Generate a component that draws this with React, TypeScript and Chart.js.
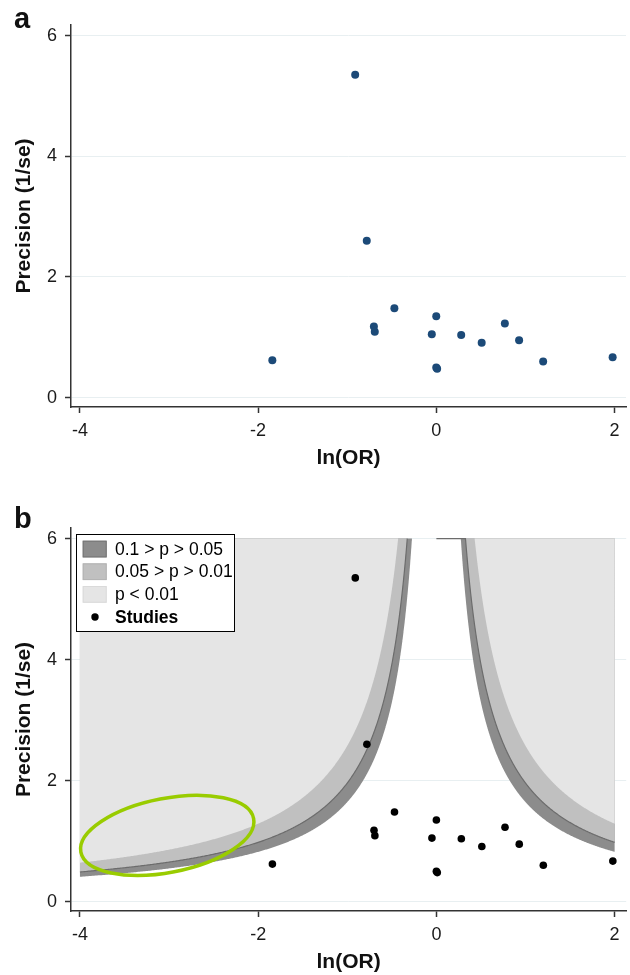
import React, { useEffect, useRef } from 'react';
import { Chart, registerables } from 'chart.js';

Chart.register(...registerables);

// ---- data ----
const LN_OR = [-0.91, -0.78, -1.84, -0.47, 0.0, -0.7, -0.69, -0.05, 0.28, 0.51, 0.77, 0.93, 1.2, 1.98, 0.0, 0.01];
const PRECISION = [5.35, 2.6, 0.62, 1.48, 1.35, 1.18, 1.09, 1.05, 1.04, 0.91, 1.23, 0.95, 0.6, 0.67, 0.5, 0.48];
const X_TICKS = [-4, -2, 0, 2];
const Y_TICKS = [0, 2, 4, 6];
const X_TITLE = 'ln(OR)';
const Y_TITLE = 'Precision (1/se)';
// contour z values for p = 0.10, 0.05, 0.01
const CONTOUR_Z = [1.645, 1.96, 2.576];
const CONTOUR_FILLS = ['#8c8c8c', '#c0c0c0', '#e5e5e5'];
const CONTOUR_EDGES = ['#747474', '#b3b3b3', '#dadada'];
const LEGEND_LABELS = ['0.1 > p > 0.05', '0.05 > p > 0.01', 'p < 0.01', 'Studies'];
const FUNNEL_X_RANGE = [-4, 2];
const FUNNEL_TOP = 6;
const ELLIPSE_CENTER = { x: -3.02, y: 1.095 };

const FONT = '"Liberation Sans", Arial, Helvetica, sans-serif';
const X_MIN = -4.1;
const X_MAX = 2.13;
const Y_MIN = -0.155;
const Y_MAX = 6.175;

const panelLabelPlugin = (text: string, baseline: number) => ({
  id: 'panelLabel',
  afterDraw(chart: any) {
    const ctx = chart.ctx;
    ctx.save();
    ctx.font = `bold 29px ${FONT}`;
    ctx.fillStyle = '#111';
    ctx.textBaseline = 'alphabetic';
    ctx.textAlign = 'left';
    ctx.fillText(text, 14, baseline);
    ctx.restore();
  },
});

const funnelPlugin = {
  id: 'funnel',
  beforeDatasetsDraw(chart: any) {
    const { ctx, scales } = chart;
    const xs = scales.x;
    const ys = scales.y;
    const px = (v: number) => xs.getPixelForValue(v);
    const py = (v: number) => ys.getPixelForValue(v);
    const [xLo, xHi] = FUNNEL_X_RANGE;
    const N = 600;
    ctx.save();
    CONTOUR_Z.forEach((z, i) => {
      [-1, 1].forEach((sign) => {
        const edge = sign < 0 ? xLo : xHi;
        const yEnd = z / Math.abs(edge);
        ctx.beginPath();
        ctx.moveTo(px(edge), py(FUNNEL_TOP));
        for (let k = 0; k <= N; k++) {
          const yy = FUNNEL_TOP * Math.pow(yEnd / FUNNEL_TOP, k / N);
          ctx.lineTo(px((sign * z) / yy), py(yy));
        }
        ctx.closePath();
        ctx.fillStyle = CONTOUR_FILLS[i];
        ctx.fill();
      });
    });
    // darker edge along the p = 0.05 contour
    const z = CONTOUR_Z[1];
    ctx.strokeStyle = '#6c6c6c';
    ctx.lineWidth = 1.2;
    [-1, 1].forEach((sign) => {
      const edge = sign < 0 ? xLo : xHi;
      const yEnd = z / Math.abs(edge);
      ctx.beginPath();
      if (sign > 0) {
        ctx.moveTo(px(0), py(FUNNEL_TOP));
      } else {
        ctx.moveTo(px((sign * z) / FUNNEL_TOP), py(FUNNEL_TOP));
      }
      for (let k = 0; k <= N; k++) {
        const yy = FUNNEL_TOP * Math.pow(yEnd / FUNNEL_TOP, k / N);
        ctx.lineTo(px((sign * z) / yy), py(yy));
      }
      ctx.stroke();
    });
    ctx.restore();
  },
};

const ellipsePlugin = {
  id: 'ellipse',
  afterDatasetsDraw(chart: any) {
    const { ctx, scales } = chart;
    const cx = scales.x.getPixelForValue(ELLIPSE_CENTER.x);
    const cy = scales.y.getPixelForValue(ELLIPSE_CENTER.y);
    ctx.save();
    ctx.beginPath();
    ctx.ellipse(cx, cy, 88, 37, (-11 * Math.PI) / 180, 0, Math.PI * 2);
    ctx.strokeStyle = '#99cc00';
    ctx.lineWidth = 3.5;
    ctx.stroke();
    ctx.restore();
  },
};

const legendPlugin = {
  id: 'funnelLegend',
  afterDraw(chart: any) {
    const { ctx, chartArea } = chart;
    const L = chartArea.left + 5;
    const T = chartArea.top + 6;
    const W = 158;
    const H = 97;
    const pitch = 22.67;
    ctx.save();
    ctx.fillStyle = '#ffffff';
    ctx.fillRect(L, T, W, H);
    ctx.strokeStyle = '#000';
    ctx.lineWidth = 1;
    ctx.strokeRect(L + 0.5, T + 0.5, W, H);
    for (let i = 0; i < 3; i++) {
      const top = T + 6.7 + i * pitch;
      ctx.fillStyle = CONTOUR_FILLS[i];
      ctx.fillRect(L + 6.7, top, 24, 16.7);
      ctx.strokeStyle = CONTOUR_EDGES[i];
      ctx.lineWidth = 1;
      ctx.strokeRect(L + 7.2, top + 0.5, 23, 15.7);
    }
    ctx.textBaseline = 'middle';
    ctx.textAlign = 'left';
    ctx.fillStyle = '#000';
    for (let i = 0; i < 4; i++) {
      const cy = T + 15 + i * pitch;
      ctx.font = i === 3 ? `bold 17.5px ${FONT}` : `17.5px ${FONT}`;
      ctx.fillText(LEGEND_LABELS[i], L + 39, cy + 1);
    }
    ctx.beginPath();
    ctx.arc(L + 19, T + 15 + 3 * pitch, 3.7, 0, Math.PI * 2);
    ctx.fill();
    ctx.restore();
  },
};

function makeScales() {
  const tickFont = { family: FONT, size: 18 };
  const titleFont = { family: FONT, size: 21, weight: 'bold' as const };
  return {
    x: {
      type: 'linear' as const,
      min: X_MIN,
      max: X_MAX,
      afterBuildTicks: (s: any) => {
        s.ticks = X_TICKS.map((v) => ({ value: v }));
      },
      afterFit: (s: any) => {
        s.height = 64;
      },
      ticks: {
        font: tickFont,
        color: '#1a1a1a',
        padding: 7,
        maxRotation: 0,
        autoSkip: false,
        callback: (v: any) => String(v),
      },
      grid: {
        display: true,
        drawOnChartArea: false,
        drawTicks: true,
        tickLength: 6,
        tickColor: '#333',
        tickWidth: 1.5,
      },
      border: { display: true, color: '#333', width: 1.5 },
      title: {
        display: true,
        text: X_TITLE,
        font: titleFont,
        color: '#111',
        padding: { top: 0, bottom: 0 },
      },
    },
    y: {
      type: 'linear' as const,
      min: Y_MIN,
      max: Y_MAX,
      afterBuildTicks: (s: any) => {
        s.ticks = Y_TICKS.map((v) => ({ value: v }));
      },
      afterFit: (s: any) => {
        s.width = 71;
      },
      ticks: {
        font: tickFont,
        color: '#1a1a1a',
        padding: 8,
        autoSkip: false,
        callback: (v: any) => String(v),
      },
      grid: {
        display: true,
        drawOnChartArea: true,
        color: '#e8eff1',
        lineWidth: 1,
        drawTicks: true,
        tickLength: 6,
        tickColor: '#333',
        tickWidth: 1.5,
      },
      border: { display: true, color: '#333', width: 1.5 },
      title: {
        display: true,
        text: Y_TITLE,
        font: titleFont,
        color: '#111',
        padding: { top: 12, bottom: 0 },
      },
    },
  };
}

function Panel({ which, top, height }: { which: 'a' | 'b'; top: number; height: number }) {
  const ref = useRef<HTMLCanvasElement | null>(null);
  useEffect(() => {
    if (!ref.current) return;
    const points = LN_OR.map((x, i) => ({ x, y: PRECISION[i] }));
    const isA = which === 'a';
    const plugins: any[] = [panelLabelPlugin(which, isA ? 27.5 : 24.5)];
    if (!isA) plugins.push(funnelPlugin, ellipsePlugin, legendPlugin);
    const chart = new Chart(ref.current, {
      type: 'scatter',
      data: {
        datasets: [
          {
            label: 'Studies',
            data: points,
            backgroundColor: isA ? '#1c4a78' : '#000000',
            borderWidth: 0,
            pointRadius: isA ? 4 : 3.8,
            pointHoverRadius: isA ? 4 : 3.8,
          },
        ],
      },
      options: {
        animation: false,
        responsive: true,
        maintainAspectRatio: false,
        devicePixelRatio: 1,
        layout: { padding: { top: 25, right: 3, bottom: isA ? 32 : 0, left: 0 } },
        plugins: { legend: { display: false }, tooltip: { enabled: false } },
        scales: makeScales() as any,
      },
      plugins,
    });
    return () => chart.destroy();
  }, [which]);
  return (
    <div style={{ position: 'absolute', left: 0, top, width: 630, height }}>
      <canvas ref={ref} />
    </div>
  );
}

export default function App() {
  return (
    <div>
      <Panel which="a" top={0} height={503} />
      <Panel which="b" top={503} height={472} />
    </div>
  );
}
